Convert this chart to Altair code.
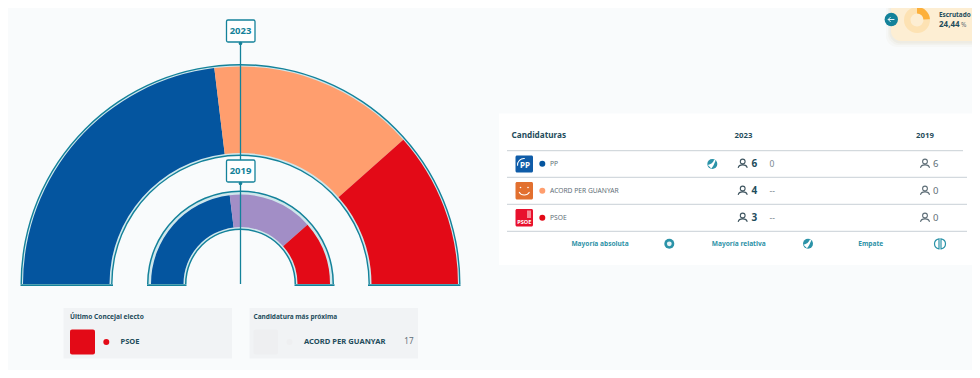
import math
import altair as alt
import pandas as pd

# --- values
parties = ["PP", "ACORD PER GUANYAR", "PSOE"]
seats_2023 = [6, 4, 3]
seats_2019_table = [6, 0, 0]
arc_2019_labels = ["PP", "Otros", "PSOE"]
arc_2019_seats = [6, 4, 3]
prev_2023 = ["0", "--", "--"]
escrutado = [24.44, 75.56]
legend_labels = ["Mayoría absoluta", "Mayoría relativa", "Empate"]

# --- styles
BLUE, PEACH, RED, PURPLE = "#04559f", "#ff9e6e", "#e30a17", "#a28ec6"
party_colors = [BLUE, PEACH, RED]
TEAL, LIGHT, DARK = "#14829a", "#cfe7ec", "#1f4d5c"
BG = "#f9fbfc"
FONT = "Noto Sans"
OFF = 8          # page margin: helpers below take page coordinates
W, H = 964, 362
CX, CY = 240.5, 284
one = alt.Data(values=[{}])
START, END = 1.5 * math.pi, 2.5 * math.pi
layers = []


def rect(x1, y1, x2, y2, color, **kw):
    layers.append(alt.Chart(one).mark_rect(color=color, **kw).encode(
        x=alt.value(x1 - OFF), x2=alt.value(x2 - OFF),
        y=alt.value(y1 - OFF), y2=alt.value(y2 - OFF)))


def rule(x1, y1, x2, y2, color, w=1.0):
    layers.append(alt.Chart(one).mark_rule(color=color, strokeWidth=w).encode(
        x=alt.value(x1 - OFF), x2=alt.value(x2 - OFF),
        y=alt.value(y1 - OFF), y2=alt.value(y2 - OFF)))


def text(x, y, s, size=7.5, color=DARK, bold=False, align="left"):
    layers.append(alt.Chart(one).mark_text(
        font=FONT, fontSize=size, color=color, align=align, baseline="middle",
        fontWeight="bold" if bold else "normal").encode(
        x=alt.value(x - OFF), y=alt.value(y - OFF), text=alt.value(s)))


def dot(x, y, r, color, opacity=1):
    layers.append(alt.Chart(one).mark_point(
        shape="circle", filled=True, color=color, size=4 * r * r, opacity=opacity).encode(
        x=alt.value(x - OFF), y=alt.value(y - OFF)))


def glyph(x, y, path, size, color, width=1.0, filled=False):
    kw = dict(fill=color, strokeWidth=0) if filled else dict(fill="transparent", stroke=color, strokeWidth=width)
    layers.append(alt.Chart(one).mark_point(shape=path, size=size, opacity=1, **kw).encode(
        x=alt.value(x - OFF), y=alt.value(y - OFF)))


def ring(cx, cy, r1, r2, color, t1=START, t2=END):
    layers.append(alt.Chart(one).mark_arc(
        color=color, radius=r1, radius2=r2, theta=t1, theta2=t2).encode(
        x=alt.value(cx - OFF), y=alt.value(cy - OFF)))


def seats_arc(labels, values, colors, r1, r2):
    df = pd.DataFrame({"party": labels, "seats": values, "ord": range(len(labels))})
    layers.append(alt.Chart(df).mark_arc(radius=r1, radius2=r2).encode(
        theta=alt.Theta("seats:Q", stack=True,
                        scale=alt.Scale(domain=[0, sum(values)], range=[START, END])),
        order=alt.Order("ord:Q"),
        color=alt.Color("party:N", legend=None, sort=None,
                        scale=alt.Scale(domain=labels, range=colors)),
        x=alt.value(CX - OFF), y=alt.value(CY - OFF)))


# --- hemicycles
ring(CX, CY, 220, 128, TEAL)
ring(CX, CY, 218.6, 129.4, LIGHT)
seats_arc(parties, seats_2023, party_colors, 217.5, 131)
rule(20.5, 285.2, 113, 285.2, TEAL, 1.8)
rule(368, 285.2, 460.5, 285.2, TEAL, 1.8)

ring(CX, CY, 93.5, 54, TEAL)
ring(CX, CY, 92, 55.5, LIGHT)
seats_arc(arc_2019_labels, arc_2019_seats, [BLUE, PURPLE, RED], 89.5, 57)
rule(147, 285.2, 186.5, 285.2, TEAL, 1.8)
rule(294.5, 285.2, 334.5, 285.2, TEAL, 1.8)

# --- year markers
rule(CX, 42, CX, 284, TEAL, 1.3)
for top, bottom, year in [(20, 42, "2023"), (160, 182, "2019")]:
    layers.append(alt.Chart(one).mark_rect(
        fill="white", stroke=TEAL, strokeWidth=1.3, cornerRadius=1.5).encode(
        x=alt.value(226.5 - OFF), x2=alt.value(255 - OFF),
        y=alt.value(top - OFF), y2=alt.value(bottom - OFF)))
    text(CX, (top + bottom) / 2, year, 9.5, TEAL, True, "center")
    dot(CX, bottom + 1.5, 1.8, TEAL)

# --- bottom cards
rect(63.5, 308, 232, 358.5, "#f1f3f5")
rect(249.5, 308, 418, 358.5, "#f1f3f5")
text(70, 316.5, "Último Concejal electo", 6.6, DARK, True)
text(253.5, 316.5, "Candidatura más próxima", 6.5, DARK, True)
rect(70, 329.5, 95, 354.5, RED, cornerRadius=2)
dot(106.3, 342, 3, RED)
text(120.5, 342, "PSOE", 7.5, DARK, True)
rect(253.5, 329.5, 278, 354.5, "#eeeff1", cornerRadius=2)
dot(289.5, 342, 3, "#eeeff1")
text(304, 342, parties[1], 7.6, DARK, True)
text(413.5, 342, "17", 8, "#5f6f78", False, "right")

# --- results table
rect(499, 113.5, W + OFF, 265, "white")
text(511.5, 136, "Candidaturas", 8.2, DARK, True)
text(743.5, 136, "2023", 7.8, DARK, True, "center")
text(925, 136, "2019", 7.8, DARK, True, "center")
rule(507, 150.7, 963, 150.7, "#c9d0d6", 1)
row_y = [163.7, 190.7, 217.7]
for y in [177.3, 204.3, 231.3]:
    rule(507, y, 967, y, "#c9d0d6", 1)

PERSON = ("M-0.24,-0.22 a0.24,0.24 0 1,1 0.48,0 a0.24,0.24 0 1,1 -0.48,0 "
          "M-0.45,0.42 C-0.4,0.02 0.4,0.02 0.45,0.42")
for i, party in enumerate(parties):
    y = row_y[i]
    dot(542.3, y, 3, party_colors[i])
    text(550, y, party, 6.7, "#5f6f78")
    glyph(742.7, y, PERSON, 400, "#3f5560", 1.1)
    text(751.5, y, str(seats_2023[i]), 10, DARK, True)
    text(769.5, y, prev_2023[i], 8.5, "#7a8790")
    glyph(925, y, PERSON, 400, "#5f6f78", 1.1)
    text(933, y, str(seats_2019_table[i]), 9.5, "#5f6f78")

# party logos
rect(515.5, 155.5, 533, 172.5, "#0f5ca8", cornerRadius=1.5)
text(525, 165.5, "PP", 8, "white", True, "center")
ring(524, 165, 7, 6, "white", 4.6, 6.4)
rect(515.5, 182, 533, 199.5, "#e2702f", cornerRadius=1.5)
ring(524.3, 189, 6.5, 5.6, "white", 2.1, 4.2)
dot(520.5, 187.5, 0.8, "white")
dot(528, 187.5, 0.8, "white")
rect(515.5, 209, 533, 226.5, "#e8112d", cornerRadius=1.5)
text(524.3, 222, "PSOE", 5.6, "white", True, "center")
rect(527, 210.5, 531, 218, "#f58a96")

# status icons
RELATIVE = "M-0.9,0.2 C-0.3,0.1 0.2,-0.3 0.4,-0.9 L0.65,-0.65 C0.4,-0.1 0.2,0.5 -0.2,0.9 Z"
TIE = ("M-0.2,-1 C-1.4,-0.8 -1.4,0.8 -0.2,1 Z M0.2,-1 C1.4,-0.8 1.4,0.8 0.2,1 Z")


def relative_icon(x, y):
    dot(x, y, 5, "#2b93a8")
    glyph(x, y, RELATIVE, 100, "white", filled=True)


relative_icon(712.3, 164)
relative_icon(808, 243.8)
dot(669.3, 243.8, 5, "#2b93a8")
dot(669.3, 243.8, 2.4, "#e8f3f6")
glyph(940, 243.8, TIE, 100, "#2b93a8", 1.2)

for x, label in zip([600, 738.7, 870.7], legend_labels):
    text(x, 243.5, label, 6.6, "#2f93a8", True, "center")

# --- "Escrutado" badge
for grow, op in [(5, 0.05), (3, 0.07), (1.5, 0.09)]:
    layers.append(alt.Chart(one).mark_rect(
        color="#c9b28a", opacity=op, cornerRadiusBottomLeft=11).encode(
        x=alt.value(891 - grow - OFF), x2=alt.value(W),
        y=alt.value(0), y2=alt.value(41 + grow + 1 - OFF)))
layers.append(alt.Chart(one).mark_rect(color="#fdeed3", cornerRadiusBottomLeft=10).encode(
    x=alt.value(891 - OFF), x2=alt.value(W), y=alt.value(0), y2=alt.value(41 - OFF)))
dot(891.3, 19.5, 6.7, TEAL)
glyph(891.3, 19.5, "M0.9,0 L-0.9,0 M-0.2,-0.7 L-0.9,0 L-0.2,0.7", 48, "white", 0.9)
scr = pd.DataFrame({"k": ["escrutado", "resto"], "v": escrutado, "ord": [0, 1]})
layers.append(alt.Chart(scr).mark_arc(radius=13, radius2=6.5).encode(
    theta=alt.Theta("v:Q", stack=True, scale=alt.Scale(domain=[0, 100], range=[0, 2 * math.pi])),
    order=alt.Order("ord:Q"),
    color=alt.Color("k:N", legend=None, sort=None,
                    scale=alt.Scale(domain=["escrutado", "resto"], range=["#fdb03b", "#fde2b3"])),
    x=alt.value(917 - OFF), y=alt.value(20 - OFF)))
text(939, 14.5, "Escrutado", 6.4, DARK, True)
text(939, 24.5, "24,44", 8, DARK, True)
text(961, 24.7, "%", 6.5, "#5f6f78")

chart = alt.layer(*layers).resolve_scale(
    theta="independent", color="independent"
).properties(
    width=W, height=H, padding=0, autosize=alt.AutoSizeParams(type="none"),
    background=BG,
).configure_view(stroke=None)

chart.save("out.html", embed_options={"renderer": "svg", "actions": False})
